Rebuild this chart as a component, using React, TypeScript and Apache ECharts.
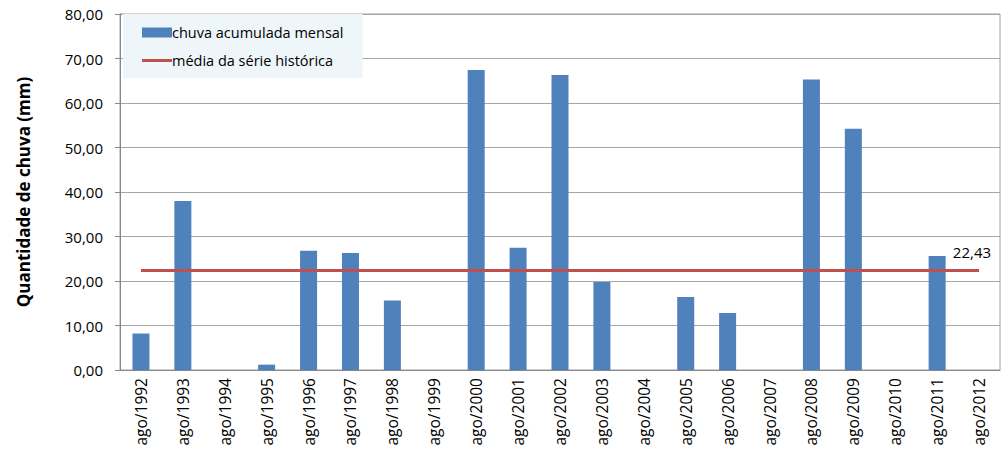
import React, { useEffect, useRef } from "react";
import * as echarts from "echarts";

const categories = [
  "ago/1992", "ago/1993", "ago/1994", "ago/1995", "ago/1996", "ago/1997", "ago/1998",
  "ago/1999", "ago/2000", "ago/2001", "ago/2002", "ago/2003", "ago/2004", "ago/2005",
  "ago/2006", "ago/2007", "ago/2008", "ago/2009", "ago/2010", "ago/2011", "ago/2012",
];
const rainfall = [
  8.2, 38.0, 0, 1.2, 26.8, 26.3, 15.6, 0, 67.4, 27.5, 66.3, 19.8, 0, 16.4, 12.8, 0, 65.3, 54.2, 0, 25.6, 0,
];
const historicalMean = 22.43;
const yTicks = { min: 0, max: 80, interval: 10 };

const fmt = (v: number) => v.toFixed(2).replace(".", ",");

export default function App() {
  const ref = useRef<HTMLDivElement>(null);
  useEffect(() => {
    if (!ref.current) return;
    const chart = echarts.init(ref.current, null, { renderer: "svg" });
    const font = "'Open Sans', 'Noto Sans', sans-serif";
    chart.setOption({
      animation: false,
      textStyle: { fontFamily: font },
      grid: { left: 120, right: 1, top: 14, bottom: 84, show: true, borderColor: "#a0a0a0", borderWidth: 1 },
      legend: {
        orient: "vertical",
        left: 123,
        top: 14,
        backgroundColor: "#eef6f9",
        padding: [11, 19, 10, 19],
        itemGap: 13,
        itemWidth: 30,
        itemHeight: 10,
        textStyle: { fontFamily: font, fontSize: 14.5, color: "#000", padding: [0, 0, 0, -5] },
        data: [
          { name: "chuva acumulada mensal", icon: "rect" },
          { name: "média da série histórica", icon: "path://M0,3.5h30v3h-30z" },
        ],
      },
      xAxis: {
        type: "category",
        data: categories,
        axisLine: { lineStyle: { color: "#888" } },
        axisTick: { show: false },
        axisLabel: { rotate: 90, fontSize: 15.5, color: "#000", margin: 8, fontFamily: font },
      },
      yAxis: {
        type: "value",
        min: yTicks.min,
        max: yTicks.max,
        interval: yTicks.interval,
        name: "Quantidade de chuva (mm)",
        nameLocation: "middle",
        nameGap: 88,
        nameTextStyle: { fontWeight: "bold", fontSize: 17, color: "#000", fontFamily: font },
        axisLine: { show: true, lineStyle: { color: "#888" } },
        axisTick: { show: true, length: 5, lineStyle: { color: "#888" } },
        splitLine: { lineStyle: { color: "#a6a6a6" } },
        axisLabel: { fontSize: 15, color: "#000", margin: 17, formatter: (v: number) => fmt(v) },
      },
      series: [
        {
          name: "chuva acumulada mensal",
          type: "bar",
          data: rainfall,
          barWidth: 17,
          itemStyle: { color: "#4f81bd" },
        },
        {
          name: "média da série histórica",
          type: "line",
          data: [],
          color: "#c0504d",
          symbol: "none",
          lineStyle: { color: "#c0504d", width: 3 },
          markLine: {
            silent: true,
            symbol: ["none", "none"],
            lineStyle: { color: "#c0504d", width: 3, type: "solid" },
            label: {
              show: true,
              position: "insideEndTop",
              distance: [-12, 11],
              formatter: () => fmt(historicalMean),
              fontSize: 15,
              color: "#000",
              fontFamily: font,
            },
            data: [
              [
                { coord: [categories[0], historicalMean] },
                { coord: [categories[categories.length - 1], historicalMean] },
              ],
            ],
          },
        },
      ],
    });
    return () => chart.dispose();
  }, []);
  return <div ref={ref} style={{ width: 1001, height: 454, position: "absolute", left: 0, top: 0, background: "#fff" }} />;
}
